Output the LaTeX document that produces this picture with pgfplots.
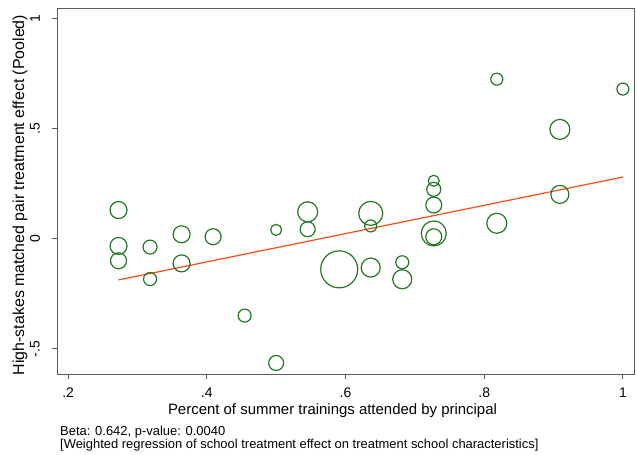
\documentclass[border=0pt]{standalone}
\usepackage{fontspec}
\setmainfont{Liberation Sans}
\usepackage{pgfplots}
\pgfplotsset{compat=1.18}

\definecolor{ptgreen}{RGB}{34,120,34}
\definecolor{fitred}{RGB}{255,75,20}
\definecolor{framegray}{RGB}{90,90,90}

% school-level effects: x = share of trainings attended, y = effect, r = marker radius (weight)
\pgfplotstableread{
x        y       r
0.27273  0.130   8.5
0.27273 -0.033   8.5
0.27273 -0.100   8
0.31818 -0.038   7
0.31818 -0.183   6.5
0.36364  0.020   8.5
0.36364 -0.112   8.5
0.40909  0.009   8
0.45455 -0.349   6.5
0.50000 -0.564   7.5
0.50000  0.040   5.5
0.54545  0.122  10
0.54545  0.043   7.5
0.59091 -0.139  18.5
0.63636  0.115  12
0.63636  0.058   6
0.63636 -0.131   9.5
0.68182 -0.107   6.5
0.68182 -0.184   9.5
0.72727  0.263   5.5
0.72727  0.224   7
0.72727  0.153   8
0.72727  0.024  12.5
0.72727  0.009   8
0.81818  0.724   6
0.81818  0.070  10
0.90909  0.496  10
0.90909  0.201   9
1.00000  0.679   6
}\schools

\begin{document}
\begin{tikzpicture}
\begin{axis}[
  scale only axis, width=577bp, height=366bp,
  xmin=0.184, xmax=1.016, ymin=-0.614, ymax=1.047,
  xtick={0.2,0.4,0.6,0.8,1}, xticklabels={.2,.4,.6,.8,1},
  ytick={-0.5,0,0.5,1}, yticklabels={-.5,0,.5,1},
  tick align=outside, tick pos=left, major tick length=5bp,
  axis line style={draw=framegray, line width=0.9bp},
  every tick/.style={framegray, line width=0.9bp},
  tick label style={font=\fontsize{14}{16}\selectfont},
  xticklabel style={anchor=center, yshift=-14bp},
  yticklabel style={rotate=90, anchor=center, yshift=17bp},
  xlabel={Percent of summer trainings attended by principal},
  ylabel={High-stakes matched pair treatment effect (Pooled)},
  xlabel style={font=\fontsize{15}{17}\selectfont, at={(axis description cs:0.5,0)},
    anchor=center, yshift=-37bp, xshift=-13bp},
  ylabel style={font=\fontsize{16}{18}\selectfont, at={(axis description cs:0,0.5)},
    anchor=center, yshift=37bp, xshift=-4bp},
  clip=false,
]
\addplot[scatter, only marks, mark=o, line width=1.2bp,
  point meta=explicit,
  scatter/use mapped color={draw=ptgreen, fill=none},
  visualization depends on={\thisrow{r} \as \rad},
  scatter/@pre marker code/.append style={/tikz/mark size=\rad bp}]
  table[x=x, y=y, meta=r] {\schools};
\addplot[fitred, line width=1.2bp] coordinates {(0.27273,-0.187) (1,0.280)};
\end{axis}
\node[anchor=west, font=\fontsize{13}{15}\selectfont, inner sep=0pt]
  at ([xshift=3bp, yshift=-58bp]current axis.south west) {Beta: 0.642, p-value: 0.0040};
\node[anchor=west, font=\fontsize{13}{15}\selectfont, inner sep=0pt]
  at ([xshift=3bp, yshift=-71bp]current axis.south west)
  {[Weighted regression of school treatment effect on treatment school characteristics]};
\pgfresetboundingbox
\path[use as bounding box] ([xshift=-57bp, yshift=-81bp]current axis.south west)
  rectangle ([xshift=3bp, yshift=8bp]current axis.north east);
\end{tikzpicture}
\end{document}
